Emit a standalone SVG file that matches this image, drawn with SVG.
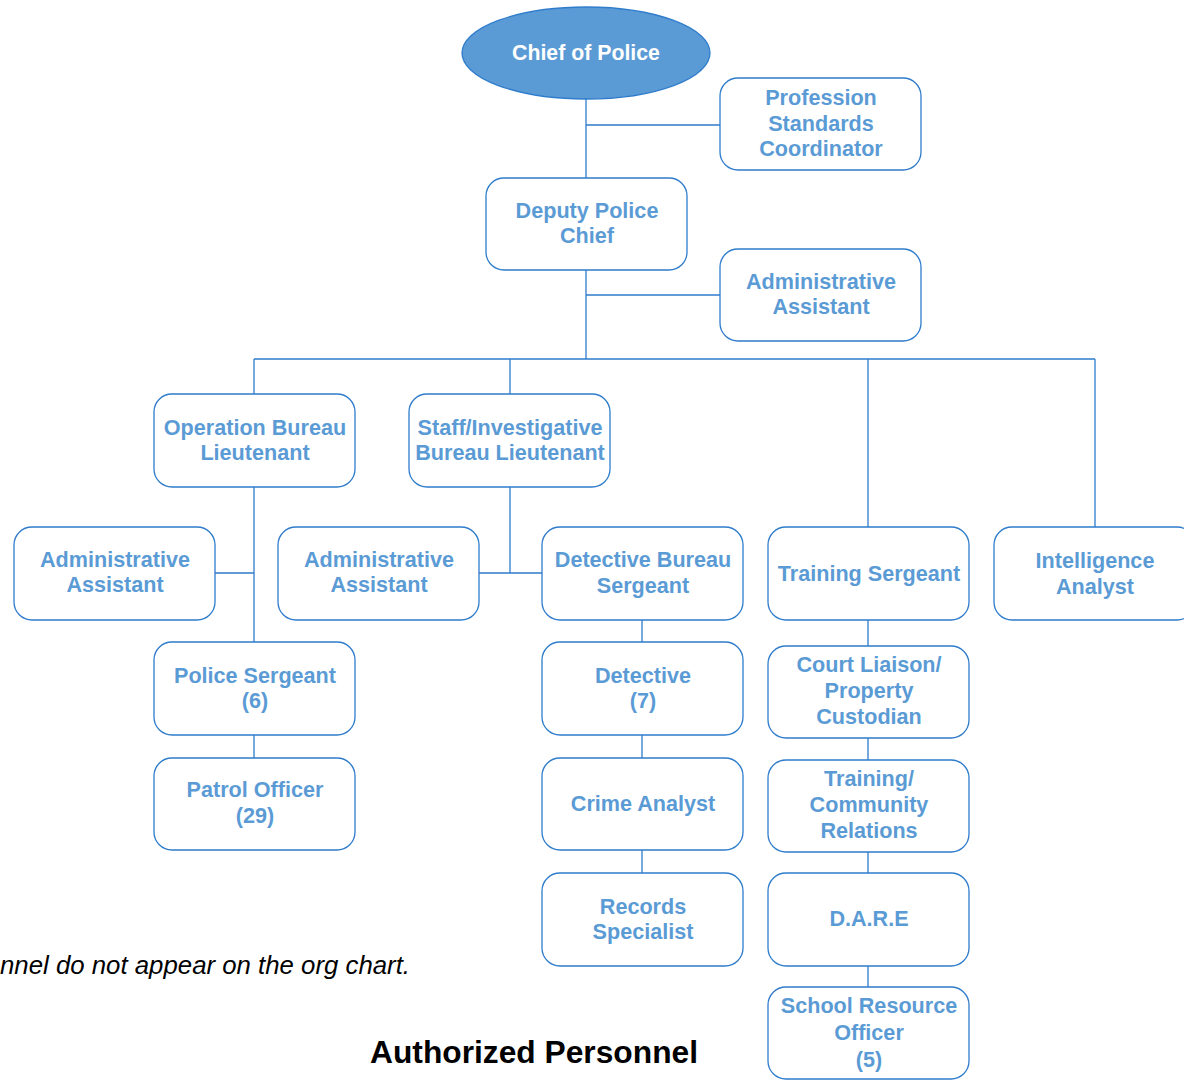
<svg xmlns="http://www.w3.org/2000/svg" width="1184" height="1082" viewBox="0 0 1184 1082">
<style>
.box{fill:#fff;stroke:#2f7ccc;stroke-width:1.3}
.t{font-family:"Liberation Sans",Arial,sans-serif;font-weight:bold;font-size:21.6px;fill:#5b9bd5;text-anchor:middle}
.c{stroke:#2f7ccc;stroke-width:1.3;fill:none}
</style>
<rect width="1184" height="1082" fill="#fff"/>
<g id="connectors">
<path class="c" d="M586 99V178M586 125H720M586 270V359M586 295H720M254 359H1095M254 359V394M510 359V394M868 359V527M1095 359V527M254 487V642M215 573H254M254 735V758M510 487V573M479 573H542M642 620V642M642 735V758M642 850V873M868 620V646M868 738V760M868 852V873M868 966V987"/>
</g>
<g id="chief"><ellipse cx="586" cy="53" rx="124" ry="46" fill="#5b9bd5" stroke="#2f7ccc" stroke-width="1.3"/><text class="t" x="586" y="60" style="fill:#fff;font-size:21.3px">Chief of Police</text></g>
<g id="psc"><rect class="box" x="720" y="78" width="201" height="92" rx="18"/><text class="t" x="821" y="105">Profession</text><text class="t" x="821" y="131">Standards</text><text class="t" x="821" y="156">Coordinator</text></g>
<g id="deputy"><rect class="box" x="486" y="178" width="201" height="92" rx="18"/><text class="t" x="587" y="218">Deputy Police</text><text class="t" x="587" y="243">Chief</text></g>
<g id="admin-top"><rect class="box" x="720" y="249" width="201" height="92" rx="18"/><text class="t" x="821" y="289">Administrative</text><text class="t" x="821" y="314">Assistant</text></g>
<g id="obl"><rect class="box" x="154" y="394" width="201" height="93" rx="18"/><text class="t" x="255" y="435">Operation Bureau</text><text class="t" x="255" y="460">Lieutenant</text></g>
<g id="sibl"><rect class="box" x="409" y="394" width="201" height="93" rx="18"/><text class="t" x="510" y="435">Staff/Investigative</text><text class="t" x="510" y="460">Bureau Lieutenant</text></g>
<g id="admin-left"><rect class="box" x="14" y="527" width="201" height="93" rx="18"/><text class="t" x="115" y="567">Administrative</text><text class="t" x="115" y="592">Assistant</text></g>
<g id="admin-mid"><rect class="box" x="278" y="527" width="201" height="93" rx="18"/><text class="t" x="379" y="567">Administrative</text><text class="t" x="379" y="592">Assistant</text></g>
<g id="dbs"><rect class="box" x="542" y="527" width="201" height="93" rx="18"/><text class="t" x="643" y="567">Detective Bureau</text><text class="t" x="643" y="593">Sergeant</text></g>
<g id="ts"><rect class="box" x="768" y="527" width="201" height="93" rx="18"/><text class="t" x="869" y="581">Training Sergeant</text></g>
<g id="ia"><rect class="box" x="994" y="527" width="201" height="93" rx="18"/><text class="t" x="1095" y="568">Intelligence</text><text class="t" x="1095" y="594">Analyst</text></g>
<g id="ps"><rect class="box" x="154" y="642" width="201" height="93" rx="18"/><text class="t" x="255" y="683">Police Sergeant</text><text class="t" x="255" y="708">(6)</text></g>
<g id="po"><rect class="box" x="154" y="758" width="201" height="92" rx="18"/><text class="t" x="255" y="797">Patrol Officer</text><text class="t" x="255" y="823">(29)</text></g>
<g id="det"><rect class="box" x="542" y="642" width="201" height="93" rx="18"/><text class="t" x="643" y="683">Detective</text><text class="t" x="643" y="708">(7)</text></g>
<g id="ca"><rect class="box" x="542" y="758" width="201" height="92" rx="18"/><text class="t" x="643" y="811">Crime Analyst</text></g>
<g id="rs"><rect class="box" x="542" y="873" width="201" height="93" rx="18"/><text class="t" x="643" y="914">Records</text><text class="t" x="643" y="939">Specialist</text></g>
<g id="cl"><rect class="box" x="768" y="646" width="201" height="92" rx="18"/><text class="t" x="869" y="672">Court Liaison/</text><text class="t" x="869" y="698">Property</text><text class="t" x="869" y="724">Custodian</text></g>
<g id="tcr"><rect class="box" x="768" y="760" width="201" height="92" rx="18"/><text class="t" x="869" y="786">Training/</text><text class="t" x="869" y="812">Community</text><text class="t" x="869" y="838">Relations</text></g>
<g id="dare"><rect class="box" x="768" y="873" width="201" height="93" rx="18"/><text class="t" x="869" y="926">D.A.R.E</text></g>
<g id="sro"><rect class="box" x="768" y="987" width="201" height="92" rx="18"/><text class="t" x="869" y="1013">School Resource</text><text class="t" x="869" y="1040">Officer</text><text class="t" x="869" y="1067">(5)</text></g>
<text x="0" y="974" font-family="Liberation Sans,Arial,sans-serif" font-style="italic" font-size="25" textLength="410" lengthAdjust="spacingAndGlyphs" fill="#000">nnel do not appear on the org chart.</text>
<text x="370" y="1063" font-family="Liberation Sans,Arial,sans-serif" font-weight="bold" font-size="31" textLength="328" lengthAdjust="spacingAndGlyphs" fill="#000">Authorized Personnel</text>
</svg>
